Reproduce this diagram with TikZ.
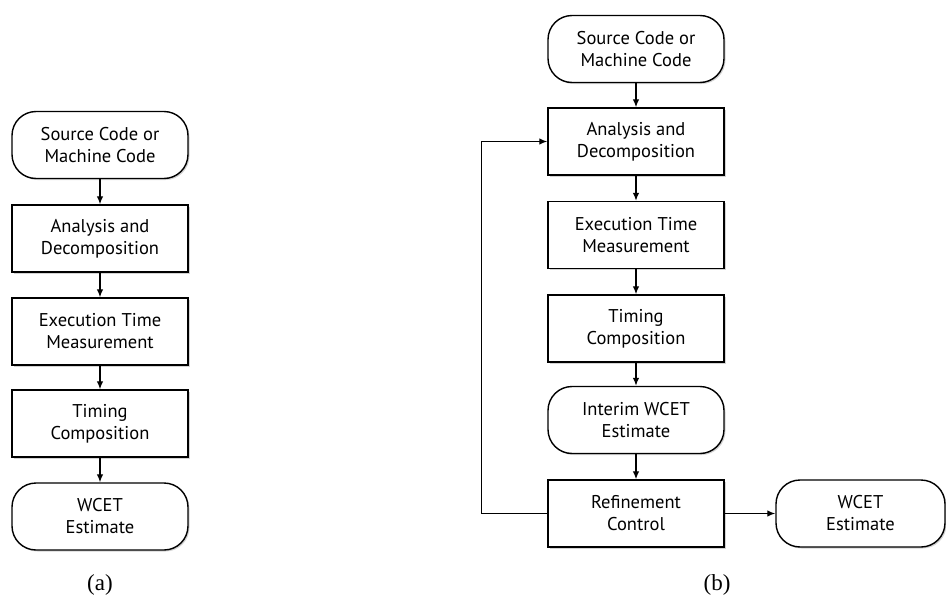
\documentclass[tikz,border=0pt]{standalone}
\usepackage{fontspec}
\setmainfont{Liberation Serif}
\newfontfamily\boxfont{PT Sans}
\usetikzlibrary{arrows.meta,shadows}

\begin{document}
\begin{tikzpicture}[x=1pt,y=-1pt,
    box/.style={draw,line width=1.4pt,fill=white,minimum width=176pt,minimum height=67pt,
      align=center,font=\boxfont\fontsize{18.5}{22}\selectfont,
      drop shadow={shadow xshift=1.5pt,shadow yshift=-1.5pt,opacity=0.35}},
    term/.style={box,rounded corners=24pt},
    arr/.style={-{Latex[length=8pt,width=6.5pt]},line width=1.3pt},
    caption/.style={font=\fontsize{23}{27}\selectfont}]
  \useasboundingbox (0,0) rectangle (946,597);

  % (a) plain flow
  \node[term] (srcA) at (100,145) {Source Code or\\Machine Code};
  \node[box] (anaA) at (100,238.5) {Analysis and\\Decomposition};
  \node[box] (exeA) at (100,331.5) {Execution Time\\Measurement};
  \node[box] (timA) at (100,423.5) {Timing\\Composition};
  \node[term] (wcetA) at (100,516.5) {WCET\\Estimate};

  \draw[arr] (srcA) -- (anaA);
  \draw[arr] (anaA) -- (exeA);
  \draw[arr] (exeA) -- (timA);
  \draw[arr] (timA) -- (wcetA);

  \node[caption] (capA) at (100,585) {(a)};

  % (b) with refinement loop
  \node[term] (srcB) at (636,49) {Source Code or\\Machine Code};
  \node[box] (anaB) at (636,141.5) {Analysis and\\Decomposition};
  \node[box] (exeB) at (636,235) {Execution Time\\Measurement};
  \node[box] (timB) at (636,328.5) {Timing\\Composition};
  \node[term] (intB) at (636,420) {Interim WCET\\Estimate};
  \node[box] (refB) at (636,513.5) {Refinement\\Control};
  \node[term,minimum width=169pt] (wcetB) at (860.5,513.5) {WCET\\Estimate};

  \draw[arr] (srcB) -- (anaB);
  \draw[arr] (anaB) -- (exeB);
  \draw[arr] (exeB) -- (timB);
  \draw[arr] (timB) -- (intB);
  \draw[arr] (intB) -- (refB);
  \draw[arr] (refB) -- (wcetB);
  \draw[arr] (refB.west) -- ++(-66,0) |- (anaB.west);

  \node[caption] (capB) at (717,585) {(b)};
\end{tikzpicture}
\end{document}
